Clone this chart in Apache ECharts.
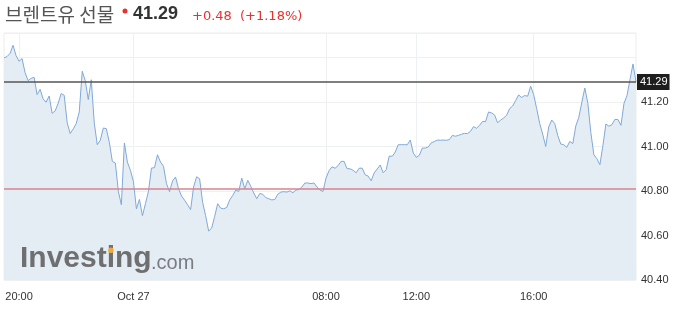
<!DOCTYPE html>
<html><head><meta charset="utf-8">
<script src="https://cdn.jsdelivr.net/npm/echarts/dist/echarts.min.js"></script>
<style>html,body{margin:0;padding:0;background:#fff}#c{width:680px;height:318px}</style>
</head><body><div id="c"></div>
<script>
const titleName = '브렌트유 선물';
const lastPrice = 41.29;
const prevClose = 40.81;
const changeText = '+0.48';
const changePctText = '(+1.18%)';

const prices = [
41.398,41.404,41.418,41.455,41.409,41.383,41.395,41.332,41.296,41.306,
41.311,41.233,41.257,41.214,41.199,41.227,41.149,41.160,41.194,41.238,
41.230,41.107,41.058,41.079,41.103,41.155,41.338,41.296,41.211,41.300,
41.104,41.008,41.028,41.083,41.080,41.019,40.933,40.926,40.798,40.738,
41.016,40.930,40.893,40.843,40.720,40.762,40.689,40.743,40.798,40.903,
40.905,40.963,40.930,40.911,40.833,40.797,40.845,40.863,40.810,40.777,
40.759,40.738,40.716,40.818,40.864,40.855,40.749,40.689,40.620,40.633,
40.686,40.743,40.723,40.720,40.726,40.760,40.780,40.804,40.798,40.858,
40.810,40.848,40.821,40.791,40.765,40.789,40.785,40.770,40.765,40.760,
40.762,40.786,40.795,40.797,40.795,40.801,40.792,40.804,40.807,40.818,
40.836,40.836,40.833,40.836,40.818,40.804,40.798,40.858,40.891,40.909,
40.902,40.914,40.933,40.933,40.900,40.900,40.893,40.882,40.902,40.903,
40.873,40.867,40.846,40.881,40.899,40.917,40.882,40.896,40.957,40.956,
40.975,41.008,41.008,41.008,41.008,41.029,40.971,40.951,40.960,40.993,
40.993,40.998,41.017,41.022,41.029,41.028,41.029,41.028,41.031,41.050,
41.046,41.050,41.055,41.059,41.058,41.068,41.089,41.082,41.095,41.112,
41.112,41.155,41.151,41.142,41.107,41.118,41.128,41.140,41.170,41.182,
41.206,41.232,41.220,41.229,41.226,41.271,41.233,41.170,41.104,41.055,
41.000,41.088,41.119,41.103,41.049,41.011,41.008,40.996,41.023,41.013,
41.092,41.131,41.199,41.263,41.194,41.062,40.963,40.945,40.918,41.004,
41.101,41.091,41.098,41.122,41.121,41.095,41.193,41.229,41.300,41.371,
41.290
];

const tickLabels = ['20:00', 'Oct 27', '08:00', '12:00', '16:00'];
const tickIndex = [5, 43, 107, 137, 176];

const yMin = 40.4, yMax = 41.51, yStep = 0.2;

const categories = prices.map((_, i) => {
  const k = tickIndex.indexOf(i);
  return k >= 0 ? tickLabels[k] : '';
});
const showTick = (idx, val) => val !== '';

const chart = echarts.init(document.getElementById('c'), null, {renderer: 'canvas'});
chart.setOption({
  animation: false,
  grid: {left: 4, right: 44, top: 33, bottom: 38, show: true, borderColor: '#ececec', borderWidth: 1},
  xAxis: {
    type: 'category', data: categories, boundaryGap: false,
    axisLine: {show: false}, axisTick: {show: false},
    axisLabel: {interval: showTick, color: '#333', fontSize: 11, fontFamily: 'Liberation Sans', margin: 11},
    splitLine: {show: true, interval: showTick, lineStyle: {color: '#eef1f4', width: 1}}
  },
  yAxis: {
    type: 'value', position: 'right', min: yMin, max: yMax, interval: yStep,
    axisLine: {show: false}, axisTick: {show: false},
    axisLabel: {color: '#333', fontSize: 11, fontFamily: 'Liberation Sans', margin: 5,
      formatter: v => (v > 41.3 ? '' : v.toFixed(2))},
    splitLine: {show: true, lineStyle: {color: '#eef1f4', width: 1}}
  },
  series: [{
    type: 'line', data: prices, symbol: 'none', showSymbol: false, smooth: false,
    lineStyle: {color: '#80a9d6', width: 1},
    areaStyle: {color: '#e5edf4', opacity: 1, origin: 'start'},
    markLine: {
      silent: true, symbol: ['none', 'none'], animation: false,
      data: [
        {yAxis: lastPrice, lineStyle: {color: '#555', width: 1.5, type: 'solid'},
         label: {show: true, position: 'end', formatter: lastPrice.toFixed(2), backgroundColor: '#1e1e1e',
                 color: '#fff', fontSize: 11, fontFamily: 'Liberation Sans', padding: [3, 2, 2, 3], distance: 1}},
        {yAxis: prevClose, lineStyle: {color: '#d9838c', width: 1.5, type: 'solid'}, label: {show: false}}
      ]
    }
  }],
  graphic: [
    {type: 'text', x: 5, y: 15, style: {text: titleName, fill: '#555', font: '19px "Noto Sans CJK KR"', verticalAlign: 'middle'}},
    {type: 'circle', shape: {cx: 125, cy: 11, r: 2.5}, style: {fill: '#e8322f'}},
    {type: 'text', x: 133, y: 14.5, style: {text: lastPrice.toFixed(2), fill: '#333', font: 'bold 18px "Liberation Sans"', verticalAlign: 'middle'}},
    {type: 'text', x: 192, y: 16.5, style: {text: changeText, fill: '#e8322f', font: '13px "DejaVu Sans"', verticalAlign: 'middle'}},
    {type: 'text', x: 240, y: 16.5, style: {text: changePctText, fill: '#e8322f', font: '13px "DejaVu Sans"', verticalAlign: 'middle'}},
    {type: 'text', x: 20, y: 259, z: 100, style: {text: 'Investing', fill: '#6e6f71', font: 'bold 30px "Liberation Sans"', verticalAlign: 'middle'}},
    {type: 'circle', z: 101, shape: {cx: 110.9, cy: 250.2, r: 2.8}, style: {fill: '#f2a93b'}},
    {type: 'text', x: 151, y: 263, z: 100, style: {text: '.com', fill: '#7b7c7e', font: '20px "Liberation Sans"', verticalAlign: 'middle'}}
  ]
});
</script>
</body></html>
